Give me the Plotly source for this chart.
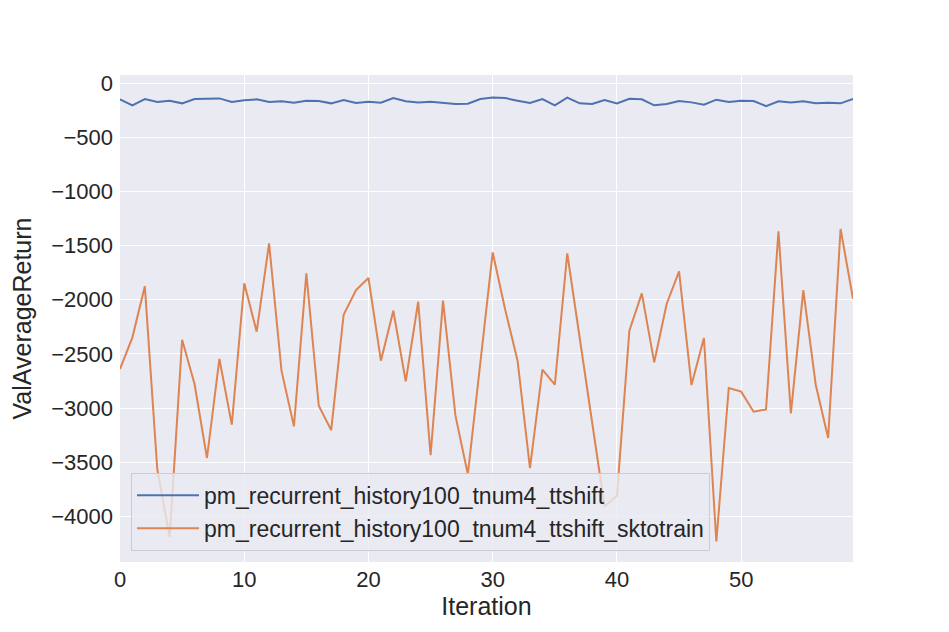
import plotly.graph_objs as go

iterations = list(range(60))

ttshift = [
    -148, -203, -145, -173, -160, -185, -145, -145, -139, -173,
    -157, -148, -173, -166, -179, -160, -163, -185, -154, -182,
    -170, -179, -136, -166, -176, -170, -179, -191, -188, -145,
    -132, -136, -160, -182, -145, -203, -132, -185, -191, -154,
    -185, -142, -148, -203, -191, -163, -176, -197, -151, -173,
    -160, -163, -210, -166, -176, -166, -185, -179, -185, -145,
]

ttshift_sktotrain = [
    -2640, -2347, -1876, -3564, -4196, -2369, -2778, -3462, -2547, -3154,
    -1848, -2295, -1479, -2655, -3170, -1756, -2979, -3204, -2138, -1910,
    -1799, -2563, -2101, -2754, -2018, -3435, -2008, -3071, -3612, -2588,
    -1562, -2090, -2563, -3555, -2646, -2785, -1571, -2351, -3131, -3910,
    -3811, -2286, -1941, -2578, -2039, -1737, -2788, -2353, -4233, -2815,
    -2849, -3034, -3013, -1368, -3050, -1910, -2785, -3277, -1346, -1990,
]

names = [
    "pm_recurrent_history100_tnum4_ttshift",
    "pm_recurrent_history100_tnum4_ttshift_sktotrain",
]

x_ticks = [0, 10, 20, 30, 40, 50]
y_ticks = [0, -500, -1000, -1500, -2000, -2500, -3000, -3500, -4000]

grid_color = "#FFFFFF"
plot_bgcolor = "#EAEAF2"
text_color = "#262626"

fig = go.Figure()
fig.add_trace(go.Scatter(
    x=iterations, y=ttshift, name=names[0], mode="lines",
    line=dict(color="#4C72B0", width=2),
))
fig.add_trace(go.Scatter(
    x=iterations, y=ttshift_sktotrain, name=names[1], mode="lines",
    line=dict(color="#DD8452", width=2),
))

# page body has an 8px margin, so shrink the figure by that much
fig.update_layout(
    width=941, height=624,
    margin=dict(l=112, r=96, t=67, b=70),
    plot_bgcolor=plot_bgcolor,
    paper_bgcolor="white",
    font=dict(family="Liberation Sans, Arial, sans-serif", size=22, color=text_color),
    xaxis=dict(
        title=dict(text="Iteration", font=dict(size=25), standoff=6),
        range=[0, 59], tickvals=x_ticks, showgrid=True, gridcolor=grid_color,
        gridwidth=1.3, zeroline=False, showline=False, ticks="",
        tickfont=dict(size=22), ticklabelstandoff=2,
    ),
    yaxis=dict(
        title=dict(text="ValAverageReturn", font=dict(size=25), standoff=14),
        range=[-4423, 77], tickvals=y_ticks,
        ticktext=[str(v).replace("-", "\u2212") for v in y_ticks],
        showgrid=True, gridcolor=grid_color, gridwidth=1.3,
        zeroline=False, showline=False, ticks="",
        tickfont=dict(size=22), ticklabelstandoff=6,
    ),
    legend=dict(
        x=0.015, y=0.023, xanchor="left", yanchor="bottom",
        bgcolor="rgba(234,234,242,0.8)", bordercolor="#CCCCCC", borderwidth=1,
        font=dict(size=23, color=text_color), tracegroupgap=0, itemwidth=62,
    ),
    showlegend=True,
)

fig.write_html("out.html")
